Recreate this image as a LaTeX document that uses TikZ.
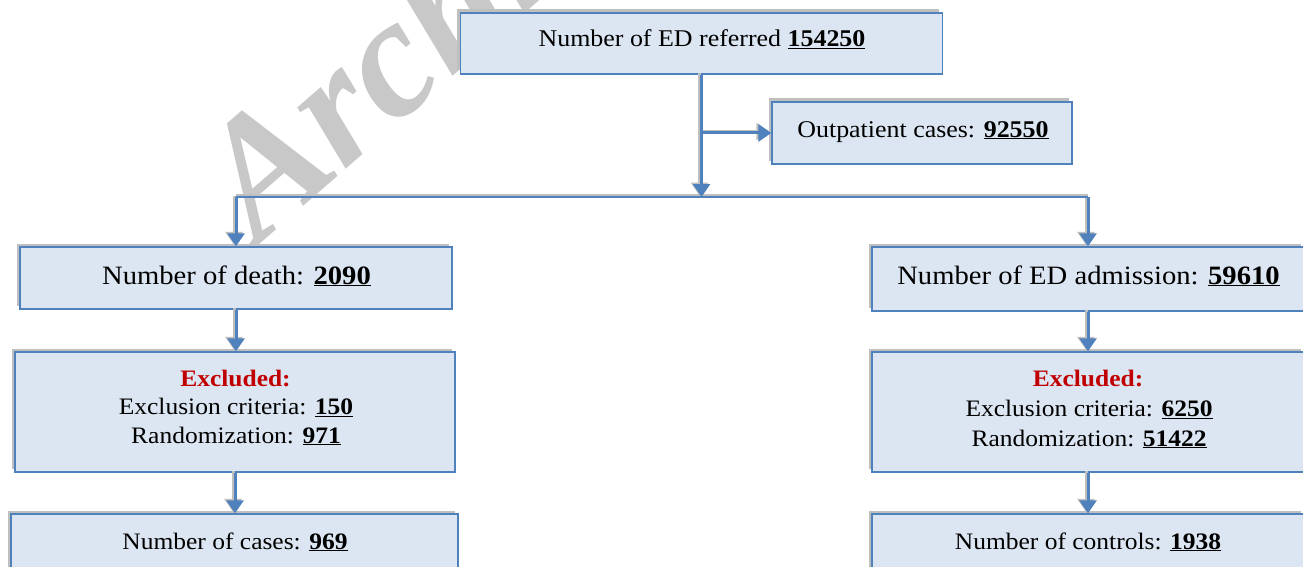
\documentclass[tikz,border=0pt]{standalone}
\usepackage{fontspec}
\setmainfont[FakeStretch=1.08]{Liberation Serif}
\newfontfamily\wmfont{Liberation Serif}
\usetikzlibrary{arrows.meta,shadows}
\definecolor{boxfill}{HTML}{DCE6F2}
\definecolor{boxline}{HTML}{4F81BD}
\definecolor{shade}{HTML}{BFBFBF}
\definecolor{wmgray}{HTML}{C8C8C8}
\definecolor{exred}{HTML}{C00000}
\newcommand{\numb}[1]{\underline{\textbf{#1}}}
\begin{document}
\begin{tikzpicture}[x=1pt,y=-1pt,
  flowbox/.style={draw=boxline, fill=boxfill, line width=1.4pt, inner sep=0pt,
    general shadow={fill=shade, shadow xshift=-3.5pt, shadow yshift=3.5pt}},
  conn/.style={draw=boxline, line width=3pt, -{Triangle[width=17pt,length=13pt]}},
  connshadow/.style={draw=shade, line width=3pt, -{Triangle[width=17pt,length=13pt]},
    transform canvas={xshift=-2pt,yshift=1.5pt}},
  busline/.style={draw=boxline, line width=2pt},
  busshadow/.style={draw=shade, line width=2pt, transform canvas={yshift=2pt}},
  lbl/.style={anchor=base, inner sep=0pt, font=\fontsize{23.6}{28}\selectfont},
  biglbl/.style={anchor=base, inner sep=0pt, font=\fontsize{26.5}{30}\selectfont},
  toplbl/.style={anchor=base, inner sep=0pt, font=\fontsize{24}{28}\selectfont},
  exlbl/.style={anchor=base, inner sep=0pt, text=exred, font=\fontsize{23.6}{28}\selectfont\bfseries}
]
\useasboundingbox (0,0) rectangle (1303,567);
\fill[white] (0,0) rectangle (1303,567);

% watermark
\node[rotate=41, anchor=base west, inner sep=0pt, text=wmgray,
  font=\wmfont\bfseries\itshape\fontsize{170}{170}\selectfont] (wmark) at (258,246) {Archive};

% boxes
\node[flowbox, minimum width=482pt, minimum height=61pt] (top) at (701.5,43.5) {};
\node[flowbox, minimum width=300pt, minimum height=62pt] (outp) at (922,133) {};
\node[flowbox, minimum width=432pt, minimum height=62pt] (L1) at (236,278) {};
\node[flowbox, minimum width=440pt, minimum height=120pt] (L2) at (235,412) {};
\node[flowbox, minimum width=447pt, minimum height=90pt] (L3) at (234.5,559) {};
\node[flowbox, minimum width=432pt, minimum height=64pt] (R1) at (1088,279) {};
\node[flowbox, minimum width=432pt, minimum height=120pt] (R2) at (1088,412) {};
\node[flowbox, minimum width=432pt, minimum height=90pt] (R3) at (1088,559) {};

% coordinates for the connector tree
\coordinate (busM) at (top.south |- 0,197);
\coordinate (busL) at (L1.north |- 0,197);
\coordinate (busR) at (R1.north |- 0,197);
\coordinate (br) at (top.south |- outp.west);

% connector shadows
\draw[busshadow] (busL) -- (busR);
\draw[connshadow] (top.south) -- (busM);
\draw[connshadow] (br) -- (outp.west);
\draw[connshadow] (busL) -- (L1.north);
\draw[connshadow] (busR) -- (R1.north);
\draw[connshadow] (L1.south) -- (L1.south |- L2.north);
\draw[connshadow] (L2.south) -- (L2.south |- L3.north);
\draw[connshadow] (R1.south) -- (R1.south |- R2.north);
\draw[connshadow] (R2.south) -- (R2.south |- R3.north);

% connectors
\draw[busline] (busL) -- (busR);
\draw[conn] (top.south) -- (busM);
\draw[conn] (br) -- (outp.west);
\draw[conn] (busL) -- (L1.north);
\draw[conn] (busR) -- (R1.north);
\draw[conn] (L1.south) -- (L1.south |- L2.north);
\draw[conn] (L2.south) -- (L2.south |- L3.north);
\draw[conn] (R1.south) -- (R1.south |- R2.north);
\draw[conn] (R2.south) -- (R2.south |- R3.north);

% texts
\node[toplbl] (ttop) at (702,47) {Number of ED referred \numb{154250}};
\node[toplbl] (toutp) at (923,137) {Outpatient cases: \numb{92550}};
\node[biglbl] (tL1) at (236.5,284) {Number of death: \numb{2090}};
\node[exlbl] (tL2a) at (235.5,386) {Excluded:};
\node[lbl] (tL2b) at (236,414.5) {Exclusion criteria: \numb{150}};
\node[lbl] (tL2c) at (236,443) {Randomization: \numb{971}};
\node[lbl] (tL3) at (235,549) {Number of cases: \numb{969}};
\node[biglbl] (tR1) at (1088.5,284) {Number of ED admission: \numb{59610}};
\node[exlbl] (tR2a) at (1088,386) {Excluded:};
\node[lbl] (tR2b) at (1089,416.5) {Exclusion criteria: \numb{6250}};
\node[lbl] (tR2c) at (1089,446) {Randomization: \numb{51422}};
\node[lbl] (tR3) at (1088,549) {Number of controls: \numb{1938}};
\end{tikzpicture}
\end{document}
